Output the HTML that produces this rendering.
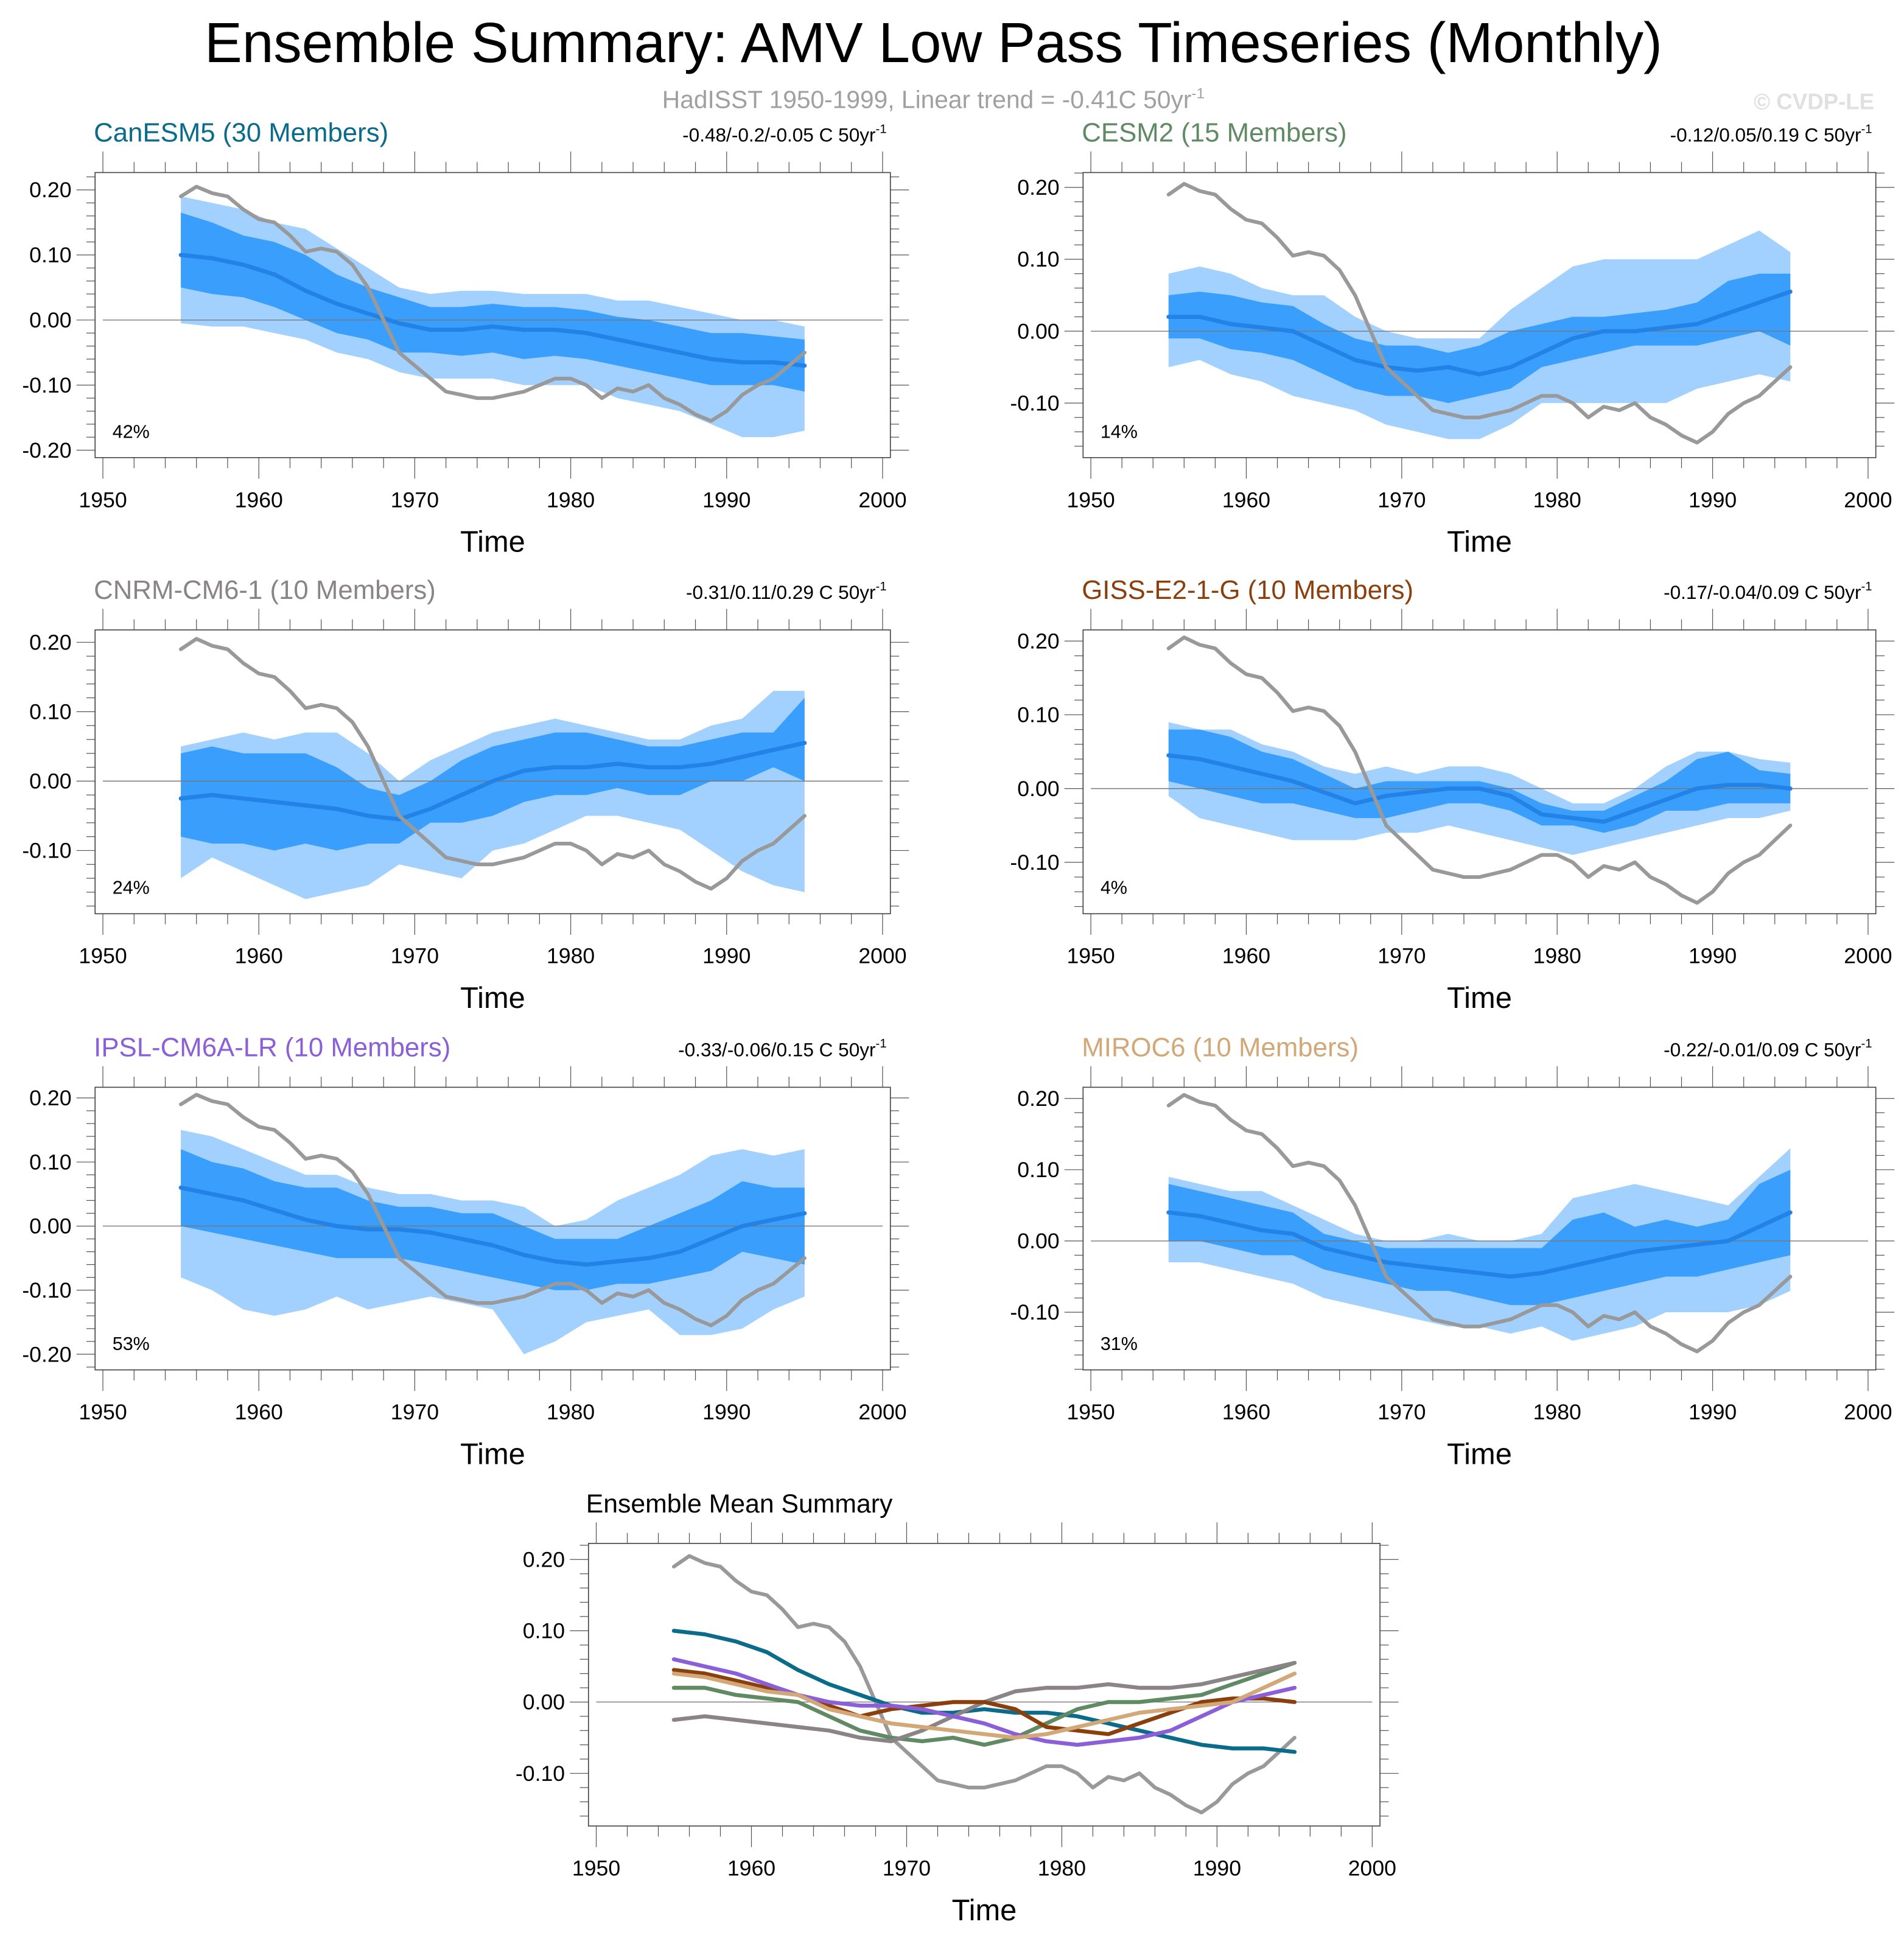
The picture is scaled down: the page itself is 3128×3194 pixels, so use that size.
<!DOCTYPE html>
<html><head><meta charset="utf-8"><style>
html,body{margin:0;padding:0;background:#fff}
svg{display:block}
text{font-family:"Liberation Sans",sans-serif}
</style></head><body>
<svg id="fig" xmlns="http://www.w3.org/2000/svg" width="3128" height="3194" viewBox="0 0 1536 1568">
<text x="753" y="50" font-size="45.5" text-anchor="middle" textLength="1176" lengthAdjust="spacingAndGlyphs">Ensemble Summary: AMV Low Pass Timeseries (Monthly)</text>
<text x="753" y="87" font-size="20" fill="#a0a0a0" text-anchor="middle">HadISST 1950-1999, Linear trend = -0.41C 50yr<tspan dy="-8" font-size="12">-1</tspan></text>
<text x="1512" y="88" font-size="18" font-weight="bold" fill="#e0e0e0" text-anchor="end">© CVDP-LE</text>
</svg>
<script>
const svgNS="http://www.w3.org/2000/svg";
const fig=document.getElementById('fig');
// data
const bandYears=[1955,1957,1959,1961,1963,1965,1967,1969,1971,1973,1975,1977,1979,1981,1983,1985,1987,1989,1991,1993,1995];
const obsYears=[1955,1956,1957,1958,1959,1960,1961,1962,1963,1964,1965,1966,1967,1968,1969,1970,1971,1972,1973,1974,1975,1976,1977,1978,1979,1980,1981,1982,1983,1984,1985,1986,1987,1988,1989,1990,1991,1992,1993,1994,1995];
const obsValues=[0.19,0.205,0.195,0.19,0.17,0.155,0.15,0.13,0.105,0.11,0.105,0.085,0.05,0.0,-0.05,-0.07,-0.09,-0.11,-0.115,-0.12,-0.12,-0.115,-0.11,-0.1,-0.09,-0.09,-0.1,-0.12,-0.105,-0.11,-0.1,-0.12,-0.13,-0.145,-0.155,-0.14,-0.115,-0.1,-0.09,-0.07,-0.05];
const xTicks=[1950,1960,1970,1980,1990,2000];
const yTickLabels=[0.2,0.1,0,-0.1,-0.2];

const canMean=[0.10,0.095,0.085,0.07,0.045,0.025,0.01,-0.005,-0.015,-0.015,-0.01,-0.015,-0.015,-0.02,-0.03,-0.04,-0.05,-0.06,-0.065,-0.065,-0.07];
const canInHi=[0.165,0.15,0.13,0.12,0.10,0.07,0.05,0.035,0.02,0.02,0.025,0.02,0.02,0.015,0.005,0.0,-0.01,-0.02,-0.02,-0.025,-0.03];
const canInLo=[0.05,0.04,0.035,0.02,0.0,-0.02,-0.03,-0.05,-0.05,-0.055,-0.05,-0.06,-0.055,-0.06,-0.07,-0.08,-0.09,-0.1,-0.1,-0.1,-0.11];
const canOutHi=[0.19,0.18,0.17,0.15,0.14,0.11,0.08,0.05,0.04,0.045,0.045,0.04,0.04,0.04,0.03,0.03,0.02,0.01,0.0,0.0,-0.01];
const canOutLo=[-0.005,-0.01,-0.01,-0.02,-0.03,-0.05,-0.06,-0.08,-0.09,-0.09,-0.09,-0.1,-0.1,-0.1,-0.12,-0.13,-0.14,-0.16,-0.18,-0.18,-0.17];

const cesMean=[0.02,0.02,0.01,0.005,0.0,-0.02,-0.04,-0.05,-0.055,-0.05,-0.06,-0.05,-0.03,-0.01,0.0,0.0,0.005,0.01,0.025,0.04,0.055];
const cesInHi=[0.05,0.055,0.05,0.04,0.035,0.01,-0.01,-0.02,-0.02,-0.03,-0.02,0.0,0.01,0.02,0.02,0.025,0.03,0.04,0.07,0.08,0.08];
const cesInLo=[-0.01,-0.01,-0.025,-0.03,-0.04,-0.06,-0.08,-0.09,-0.09,-0.1,-0.09,-0.08,-0.05,-0.04,-0.03,-0.02,-0.02,-0.02,-0.01,0.0,-0.02];
const cesOutHi=[0.08,0.09,0.08,0.06,0.05,0.05,0.02,0.0,-0.01,-0.01,-0.01,0.03,0.06,0.09,0.1,0.1,0.1,0.1,0.12,0.14,0.11];
const cesOutLo=[-0.05,-0.04,-0.06,-0.07,-0.09,-0.1,-0.11,-0.13,-0.14,-0.15,-0.15,-0.13,-0.1,-0.1,-0.1,-0.1,-0.1,-0.08,-0.07,-0.06,-0.07];

const cnrMean=[-0.025,-0.02,-0.025,-0.03,-0.035,-0.04,-0.05,-0.055,-0.04,-0.02,0.0,0.015,0.02,0.02,0.025,0.02,0.02,0.025,0.035,0.045,0.055];
const cnrInHi=[0.04,0.05,0.04,0.04,0.04,0.02,-0.01,-0.02,0.0,0.03,0.05,0.06,0.07,0.07,0.06,0.05,0.05,0.06,0.07,0.07,0.12];
const cnrInLo=[-0.08,-0.09,-0.09,-0.1,-0.09,-0.1,-0.09,-0.09,-0.06,-0.06,-0.05,-0.03,-0.02,-0.02,-0.01,-0.02,-0.02,0.0,0.0,0.02,0.0];
const cnrOutHi=[0.05,0.06,0.07,0.06,0.07,0.07,0.04,0.0,0.03,0.05,0.07,0.08,0.09,0.08,0.07,0.06,0.06,0.08,0.09,0.13,0.13];
const cnrOutLo=[-0.14,-0.11,-0.13,-0.15,-0.17,-0.16,-0.15,-0.12,-0.13,-0.14,-0.1,-0.09,-0.07,-0.05,-0.05,-0.06,-0.07,-0.1,-0.13,-0.15,-0.16];

const gisMean=[0.045,0.04,0.03,0.02,0.01,-0.005,-0.02,-0.01,-0.005,0.0,0.0,-0.01,-0.035,-0.04,-0.045,-0.03,-0.015,0.0,0.005,0.005,0.0];
const gisInHi=[0.08,0.08,0.07,0.05,0.04,0.02,0.0,0.01,0.01,0.01,0.01,0.0,-0.02,-0.03,-0.03,-0.01,0.01,0.04,0.05,0.025,0.02];
const gisInLo=[0.01,0.0,-0.01,-0.02,-0.02,-0.03,-0.04,-0.04,-0.03,-0.02,-0.02,-0.03,-0.05,-0.05,-0.06,-0.05,-0.03,-0.03,-0.02,-0.02,-0.02];
const gisOutHi=[0.09,0.08,0.08,0.06,0.05,0.03,0.02,0.03,0.02,0.03,0.03,0.02,0.0,-0.02,-0.02,0.0,0.03,0.05,0.05,0.04,0.035];
const gisOutLo=[-0.01,-0.04,-0.05,-0.06,-0.07,-0.07,-0.07,-0.06,-0.06,-0.05,-0.06,-0.07,-0.08,-0.09,-0.08,-0.07,-0.06,-0.05,-0.04,-0.04,-0.03];

const ipsMean=[0.06,0.05,0.04,0.025,0.01,0.0,-0.005,-0.005,-0.01,-0.02,-0.03,-0.045,-0.055,-0.06,-0.055,-0.05,-0.04,-0.02,0.0,0.01,0.02];
const ipsInHi=[0.12,0.1,0.09,0.07,0.06,0.06,0.04,0.03,0.03,0.02,0.02,0.0,-0.02,-0.02,-0.02,0.0,0.02,0.04,0.07,0.06,0.06];
const ipsInLo=[0.0,-0.01,-0.02,-0.03,-0.04,-0.05,-0.05,-0.05,-0.06,-0.07,-0.08,-0.09,-0.1,-0.1,-0.09,-0.09,-0.08,-0.07,-0.04,-0.05,-0.06];
const ipsOutHi=[0.15,0.14,0.12,0.1,0.08,0.08,0.06,0.05,0.05,0.04,0.04,0.03,0.0,0.01,0.04,0.06,0.08,0.11,0.12,0.11,0.12];
const ipsOutLo=[-0.08,-0.1,-0.13,-0.14,-0.13,-0.11,-0.13,-0.12,-0.11,-0.12,-0.13,-0.2,-0.18,-0.15,-0.14,-0.13,-0.17,-0.17,-0.16,-0.13,-0.11];

const mirMean=[0.04,0.035,0.025,0.015,0.01,-0.01,-0.02,-0.03,-0.035,-0.04,-0.045,-0.05,-0.045,-0.035,-0.025,-0.015,-0.01,-0.005,0.0,0.02,0.04];
const mirInHi=[0.08,0.07,0.06,0.05,0.04,0.01,0.0,-0.01,-0.01,-0.01,-0.01,-0.01,-0.01,0.03,0.04,0.02,0.03,0.02,0.03,0.08,0.1];
const mirInLo=[0.0,0.0,-0.01,-0.02,-0.02,-0.04,-0.05,-0.06,-0.07,-0.07,-0.08,-0.09,-0.09,-0.08,-0.07,-0.06,-0.05,-0.05,-0.04,-0.03,-0.02];
const mirOutHi=[0.09,0.08,0.07,0.07,0.05,0.03,0.01,0.0,0.0,0.01,0.0,0.0,0.01,0.06,0.07,0.08,0.07,0.06,0.05,0.09,0.13];
const mirOutLo=[-0.03,-0.03,-0.04,-0.05,-0.06,-0.08,-0.09,-0.1,-0.11,-0.12,-0.12,-0.13,-0.12,-0.14,-0.13,-0.12,-0.1,-0.1,-0.1,-0.09,-0.07];

function mk(tag,attrs,parent){const e=document.createElementNS(svgNS,tag);for(const k in attrs)e.setAttribute(k,attrs[k]);(parent||fig).appendChild(e);return e;}

function axes(p){
  const g=mk('g',{});
  
  
  const X=y=>p.x0+(y-1950)/50*(p.x1-p.x0);
  const Y=v=>p.y0-v*p.k;
  const bx0=X(1949.5),bx1=X(2000.5),by0=p.boxTop,by1=p.boxBot;
  for(let yr=1950;yr<=2000;yr+=2){
    const maj=yr%10===0,L=maj?17:8.5,x=X(yr);
    mk('line',{x1:x,x2:x,y1:by0,y2:by0-L,stroke:'#555','stroke-width':0.6},g);
    mk('line',{x1:x,x2:x,y1:by1,y2:by1+L,stroke:'#555','stroke-width':0.6},g);
  }
  const vTop=(p.y0-by0)/p.k,vBot=(p.y0-by1)/p.k;
  for(let i=-12;i<=12;i++){
    const v=i*0.02;if(v>vTop||v<vBot)continue;
    const maj=i%5===0,L=maj?15:7,y=Y(v);
    mk('line',{x1:bx0,x2:bx0-L,y1:y,y2:y,stroke:'#555','stroke-width':0.6},g);
    mk('line',{x1:bx1,x2:bx1+L,y1:y,y2:y,stroke:'#555','stroke-width':0.6},g);
  }
  yTickLabels.forEach(v=>{
    if(v>vTop||v<vBot)return;
    const t=mk('text',{x:bx0-19,y:Y(v)+6,'font-size':17.5,'text-anchor':'end'},g);
    
    
    t.textContent=v.toFixed(2);
  });
  xTicks.forEach(yr=>{
    const t=mk('text',{x:X(yr),y:by1+40,'font-size':17.5,'text-anchor':'middle'},g);
    
    
    t.textContent=yr;
  });
  const tt=mk('text',{x:(bx0+bx1)/2,y:by1+76,'font-size':24,'text-anchor':'middle'},g);
  
  
  tt.textContent='Time';
  return {g,X,Y,bx0,bx1,by0,by1};
}
function line(g,X,Y,xs,vs,color,w){
  const d=vs.map((v,i)=>(i?'L':'M')+X(xs[i]).toFixed(2)+','+Y(v).toFixed(2)).join('');
  return mk('path',{d,fill:'none',stroke:color,'stroke-width':w,'stroke-linejoin':'round','stroke-linecap':'round'},g);
}
function band(g,X,Y,hi,lo,color){
  let d=hi.map((v,i)=>(i?'L':'M')+X(bandYears[i]).toFixed(2)+','+Y(v).toFixed(2)).join('');
  for(let i=lo.length-1;i>=0;i--)d+='L'+X(bandYears[i]).toFixed(2)+','+Y(lo[i]).toFixed(2);
  return mk('path',{d:d+'Z',fill:color,stroke:'none'},g);
}
function frame(a){
  mk('line',{x1:a.X(1950),x2:a.X(2000),y1:a.Y(0),y2:a.Y(0),stroke:'#777','stroke-width':0.7},a.g);
  mk('rect',{x:a.bx0,y:a.by0,width:a.bx1-a.bx0,height:a.by1-a.by0,fill:'none',stroke:'#444','stroke-width':0.8},a.g);
}

const panels=[
 {id:'canesm5',title:'CanESM5 (30 Members)',color:'#0b6b8a',trend:'-0.48/-0.2/-0.05 C 50yr',pct:'42%',x0:83,x1:712,y0:258,k:525,boxTop:139,boxBot:369,d:[canMean,canInHi,canInLo,canOutHi,canOutLo]},
 {id:'cesm2',title:'CESM2 (15 Members)',color:'#5f8a63',trend:'-0.12/0.05/0.19 C 50yr',pct:'14%',x0:880,x1:1507,y0:267,k:580,boxTop:139,boxBot:369,d:[cesMean,cesInHi,cesInLo,cesOutHi,cesOutLo]},
 {id:'cnrm-cm6-1',title:'CNRM-CM6-1 (10 Members)',color:'#8a8488',trend:'-0.31/0.11/0.29 C 50yr',pct:'24%',x0:83,x1:712,y0:630,k:560,boxTop:508,boxBot:737,d:[cnrMean,cnrInHi,cnrInLo,cnrOutHi,cnrOutLo]},
 {id:'giss-e2-1-g',title:'GISS-E2-1-G (10 Members)',color:'#8b3f0c',trend:'-0.17/-0.04/0.09 C 50yr',pct:'4%',x0:880,x1:1507,y0:636,k:595,boxTop:508,boxBot:737,d:[gisMean,gisInHi,gisInLo,gisOutHi,gisOutLo]},
 {id:'ipsl-cm6a-lr',title:'IPSL-CM6A-LR (10 Members)',color:'#8a5fd8',trend:'-0.33/-0.06/0.15 C 50yr',pct:'53%',x0:83,x1:712,y0:989,k:517,boxTop:877,boxBot:1105,d:[ipsMean,ipsInHi,ipsInLo,ipsOutHi,ipsOutLo]},
 {id:'miroc6',title:'MIROC6 (10 Members)',color:'#d2a878',trend:'-0.22/-0.01/0.09 C 50yr',pct:'31%',x0:880,x1:1507,y0:1001,k:575,boxTop:877,boxBot:1105,d:[mirMean,mirInHi,mirInLo,mirOutHi,mirOutLo]}
];
panels.forEach(p=>{
  const a=axes(p);
  const [m,ih,il,oh,ol]=p.d;
  const b1=band(a.g,a.X,a.Y,oh,ol,'#a3d1ff');
  
  
  const b2=band(a.g,a.X,a.Y,ih,il,'#3a9ffc');
  
  
  frame(a);
  const ml=line(a.g,a.X,a.Y,bandYears,m,'#2482e6',3.4);
  
  
  const ob=line(a.g,a.X,a.Y,obsYears,obsValues,'#999999',3);
  
  
  const t=mk('text',{x:a.bx0-1,y:a.by0-25,'font-size':21.5,fill:p.color},a.g);
  
  
  t.textContent=p.title;
  const tr=mk('text',{x:a.bx1-3,y:a.by0-25,'font-size':15.5,'text-anchor':'end'},a.g);
  
  
  tr.innerHTML=p.trend+'<tspan dy="-7" font-size="10">-1</tspan>';
  const pc=mk('text',{x:a.bx0+14,y:a.by1-16,'font-size':15},a.g);
  
  
  pc.textContent=p.pct;
});
// summary
const sp={id:'ensemble-mean-summary',x0:481,x1:1107,y0:1373,k:575,boxTop:1245,boxBot:1473};
const sa=axes(sp);
frame(sa);
const ob=line(sa.g,sa.X,sa.Y,obsYears,obsValues,'#999999',3);


panels.forEach(p=>{
  const l=line(sa.g,sa.X,sa.Y,bandYears,p.d[0],p.color,3.2);
  
  
});
const st=mk('text',{x:sa.bx0-2,y:sa.by0-25,'font-size':21},sa.g);


st.textContent='Ensemble Mean Summary';
</script>
</body></html>
